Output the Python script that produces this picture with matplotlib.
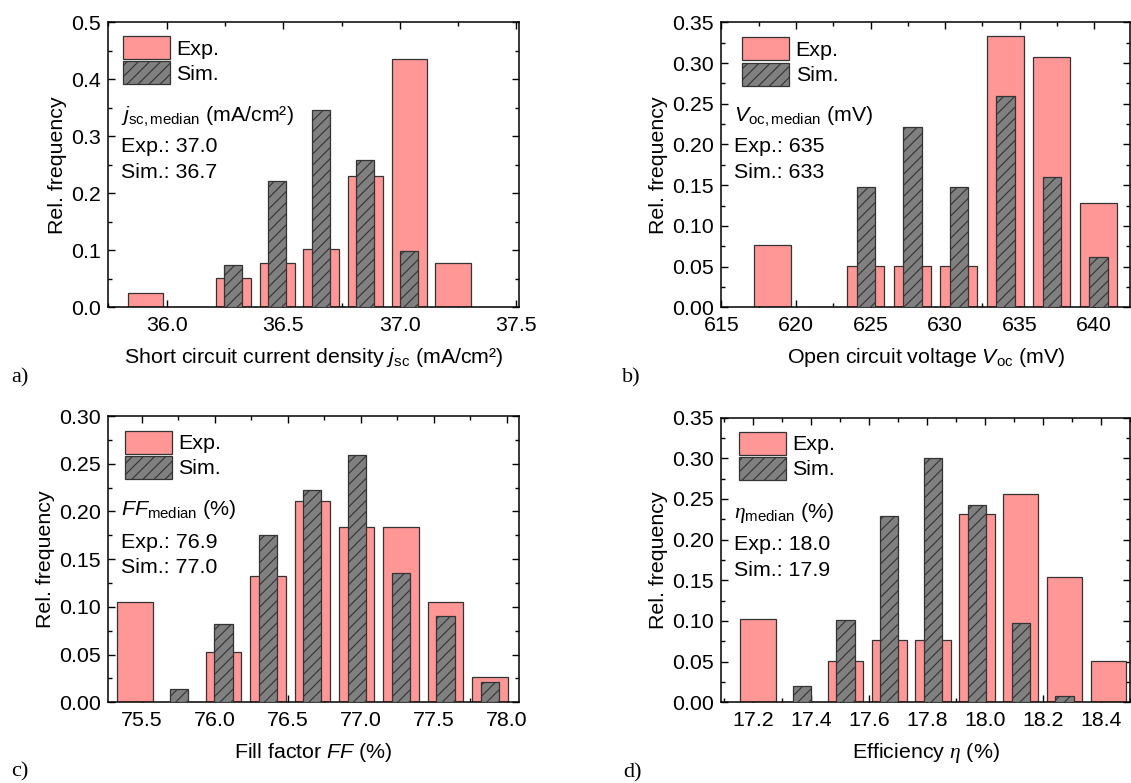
import matplotlib
matplotlib.use("Agg")
import matplotlib.pyplot as plt
from matplotlib.ticker import MultipleLocator, FormatStrFormatter
from matplotlib.patches import Patch

plt.rcParams['font.family'] = ['Liberation Sans', 'DejaVu Sans']
plt.rcParams['mathtext.fontset'] = 'custom'
plt.rcParams['mathtext.rm'] = 'Liberation Sans'
plt.rcParams['mathtext.it'] = 'Liberation Sans:italic'
plt.rcParams['mathtext.cal'] = 'Liberation Serif:italic'
plt.rcParams['hatch.linewidth'] = 0.8
plt.rcParams['hatch.color'] = 'black'

# ---------------- data ----------------
jsc_bins = [35.908, 36.097, 36.285, 36.474, 36.662, 36.851, 37.040, 37.228]
jsc_exp = [0.026, 0.0, 0.051, 0.077, 0.103, 0.231, 0.436, 0.077]
jsc_sim = [0.0, 0.0, 0.074, 0.222, 0.346, 0.259, 0.099, 0.0]

voc_bins = [618.44, 621.56, 624.68, 627.80, 630.92, 634.04, 637.16, 640.28]
voc_exp = [0.077, 0.0, 0.051, 0.051, 0.051, 0.333, 0.308, 0.128]
voc_sim = [0.0, 0.0, 0.148, 0.222, 0.148, 0.259, 0.160, 0.062]

ff_bins = [75.452, 75.756, 76.060, 76.364, 76.667, 76.971, 77.275, 77.579, 77.883]
ff_exp = [0.105, 0.0, 0.053, 0.132, 0.211, 0.184, 0.184, 0.105, 0.026]
ff_sim = [0.0, 0.014, 0.082, 0.175, 0.222, 0.259, 0.135, 0.090, 0.021]

eta_bins = [17.216, 17.367, 17.518, 17.669, 17.820, 17.972, 18.123, 18.274, 18.425]
eta_exp = [0.103, 0.0, 0.051, 0.077, 0.077, 0.231, 0.256, 0.154, 0.051]
eta_sim = [0.0, 0.020, 0.101, 0.229, 0.300, 0.242, 0.098, 0.008, 0.0]

legend_labels = ["Exp.", "Sim."]

panels = [
    dict(bins=jsc_bins, exp=jsc_exp, sim=jsc_sim, wexp=0.151, wsim=0.0766,
         xlim=(35.75, 37.51), ylim=(0, 0.5), xmaj=0.5, xmin=0.25, ymaj=0.1, ymin=0.05,
         xfmt='%.1f', yfmt='%.1f',
         xlabel=r"Short circuit current density $j_{\mathrm{sc}}$ (mA/cm²)",
         title=r"$j_{\mathrm{sc,median}}$ (mA/cm²)",
         med_exp="Exp.: 37.0", med_sim="Sim.: 36.7",
         pos=[0.0959, 0.6075, 0.3628, 0.3640], leg=(0.035, 0.952),
         txt=(0.03, 0.650, 0.545, 0.454), tag="a)", tagpos=(11, 378)),
    dict(bins=voc_bins, exp=voc_exp, sim=voc_sim, wexp=2.49, wsim=1.24,
         xlim=(615, 642.4), ylim=(0, 0.35), xmaj=5, xmin=2.5, ymaj=0.05, ymin=0.025,
         xfmt='%.0f', yfmt='%.2f',
         xlabel=r"Open circuit voltage $V_{\mathrm{oc}}$ (mV)",
         title=r"$V_{\mathrm{oc,median}}$ (mV)",
         med_exp="Exp.: 635", med_sim="Sim.: 633",
         pos=[0.6378, 0.6075, 0.3614, 0.3640], leg=(0.051, 0.947),
         txt=(0.031, 0.650, 0.545, 0.454), tag="b)", tagpos=(622, 378)),
    dict(bins=ff_bins, exp=ff_exp, sim=ff_sim, wexp=0.2424, wsim=0.125,
         xlim=(75.27, 78.08), ylim=(0, 0.30), xmaj=0.5, xmin=0.25, ymaj=0.05, ymin=0.025,
         xfmt='%.1f', yfmt='%.2f',
         xlabel=r"Fill factor $FF$ (%)",
         title=r"$FF_{\mathrm{median}}$ (%)",
         med_exp="Exp.: 76.9", med_sim="Sim.: 77.0",
         pos=[0.0957, 0.1031, 0.3629, 0.3656], leg=(0.041, 0.949),
         txt=(0.032, 0.654, 0.540, 0.451), tag="c)", tagpos=(11, 772)),
    dict(bins=eta_bins, exp=eta_exp, sim=eta_sim, wexp=0.1216, wsim=0.0627,
         xlim=(17.09, 18.50), ylim=(0, 0.35), xmaj=0.2, xmin=0.1, ymaj=0.05, ymin=0.025,
         xfmt='%.1f', yfmt='%.2f',
         xlabel=r"Efficiency $\mathcal{\eta}$ (%)",
         title=r"$\mathcal{\eta}_{\mathrm{median}}$ (%)",
         med_exp="Exp.: 18.0", med_sim="Sim.: 17.9",
         pos=[0.6378, 0.1031, 0.3614, 0.3635], leg=(0.042, 0.951),
         txt=(0.031, 0.647, 0.535, 0.445), tag="d)", tagpos=(623, 773)),
]

EXP_COLOR = '#FF9797'
SIM_COLOR = '#808080'
EDGE = '#333333'
FS = 15.4

W, H = 1131, 783
fig = plt.figure(figsize=(W / 100, H / 100), dpi=100)

for p in panels:
    ax = fig.add_axes(p['pos'])
    ax.bar(p['bins'], p['exp'], width=p['wexp'], color=EXP_COLOR,
           edgecolor=EDGE, linewidth=0.9, zorder=2)
    ax.bar(p['bins'], p['sim'], width=p['wsim'], color=SIM_COLOR,
           edgecolor=EDGE, linewidth=0.9, hatch='///', zorder=3)
    ax.set_xlim(*p['xlim'])
    ax.set_ylim(*p['ylim'])
    ax.xaxis.set_major_locator(MultipleLocator(p['xmaj']))
    ax.xaxis.set_minor_locator(MultipleLocator(p['xmin']))
    ax.yaxis.set_major_locator(MultipleLocator(p['ymaj']))
    ax.yaxis.set_minor_locator(MultipleLocator(p['ymin']))
    ax.xaxis.set_major_formatter(FormatStrFormatter(p['xfmt']))
    ax.yaxis.set_major_formatter(FormatStrFormatter(p['yfmt']))
    ax.tick_params(which='both', direction='in', top=True, right=True,
                   width=1.0, labelsize=FS, colors='black')
    ax.tick_params(which='major', length=5)
    ax.tick_params(which='minor', length=3)
    ax.tick_params(axis='x', which='major', pad=6.5)
    ax.tick_params(axis='y', which='major', pad=5.5)
    for s in ax.spines.values():
        s.set_linewidth(1.1)
    ax.set_xlabel(p['xlabel'], fontsize=FS, labelpad=7.5)
    ax.set_ylabel("Rel. frequency", fontsize=FS, labelpad=3)

    handles = [Patch(facecolor=EXP_COLOR, edgecolor=EDGE, linewidth=0.9),
               Patch(facecolor=SIM_COLOR, edgecolor=EDGE, linewidth=0.9, hatch='///')]
    ax.legend(handles, legend_labels, loc='upper left', bbox_to_anchor=p['leg'],
              frameon=False, fontsize=FS, borderpad=0, borderaxespad=0,
              handlelength=2.2, handleheight=1.277, labelspacing=0.1,
              handletextpad=0.3)

    tx, y1, y2, y3 = p['txt']
    ax.text(tx, y1, p['title'], transform=ax.transAxes, fontsize=FS, va='baseline')
    ax.text(tx, y2, p['med_exp'], transform=ax.transAxes, fontsize=FS, va='baseline')
    ax.text(tx, y3, p['med_sim'], transform=ax.transAxes, fontsize=FS, va='baseline')

    fig.text(p['tagpos'][0] / W, 1 - p['tagpos'][1] / H, p['tag'],
             family='Liberation Serif', fontsize=16, va='center', ha='left')

fig.savefig("out.png", dpi=100)
